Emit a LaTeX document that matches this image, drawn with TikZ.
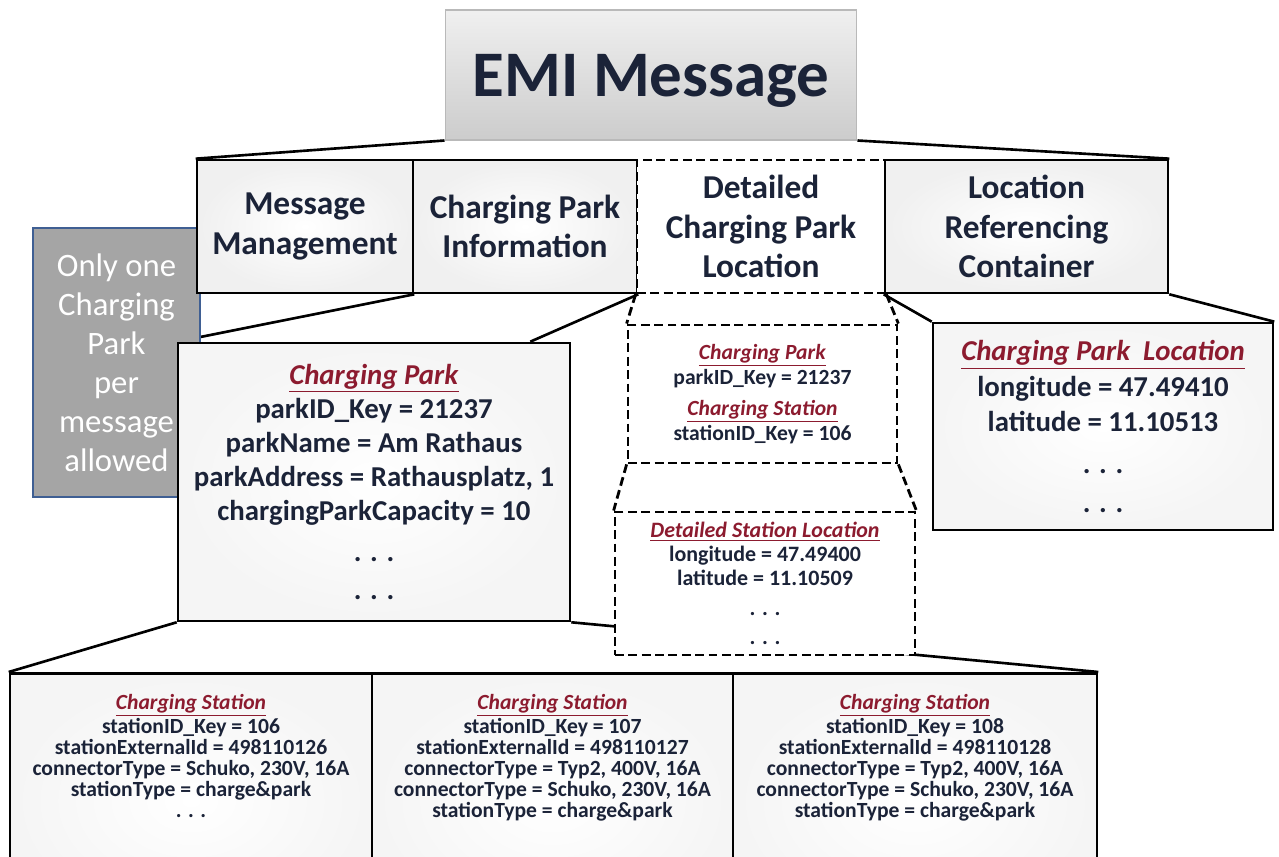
\documentclass[tikz,border=0pt]{standalone}
\usepackage{fontspec}
\setmainfont{Carlito}
\usetikzlibrary{backgrounds}

\definecolor{inknavy}{HTML}{1B2338}
\definecolor{headred}{HTML}{8C1B2F}
\definecolor{notegray}{HTML}{A5A5A5}
\definecolor{noteblue}{HTML}{3F5F93}

\newcommand{\hd}[1]{\textcolor{headred}{\underline{\textit{#1}}}}
\newcommand{\tabfont}{\fontsize{19}{22.5}\selectfont\bfseries}

\tikzset{
  box/.style={draw=black, line width=1.5pt, align=center, text=inknavy, inner sep=0pt},
  emibox/.style={top color=gray!12, bottom color=gray!40, draw=gray!55, line width=0.6pt,
    minimum width=8.24cm, minimum height=2.6cm, text=inknavy, text depth=0pt,
    font=\fontsize{37}{40}\selectfont\bfseries},
  notebox/.style={fill=notegray, draw=noteblue, line width=1.5pt, align=center, text=white,
    minimum width=3.34cm, minimum height=5.38cm, font=\fontsize{18.6}{22.2}\selectfont},
  tab/.style={box, shade, inner color=white, outer color=gray!12, minimum height=2.66cm, font=\tabfont},
  card/.style={box, shade, inner color=white, outer color=gray!8},
  dashbox/.style={box, fill=white, line width=1.6pt, dash pattern=on 5pt off 2.6pt},
  station/.style={card, anchor=north, inner ysep=0.42cm, text depth=1.8cm,
    font=\fontsize{12.3}{11.9}\selectfont\bfseries},
  link/.style={line width=1.5pt},
  dashlink/.style={line width=1.6pt, dash pattern=on 5pt off 2.6pt}
}

\begin{document}
\begin{tikzpicture}[x=0.02cm, y=-0.02cm]

  \useasboundingbox (0,0) rectangle (1279,857);
  \clip (0,0) rectangle (1279,857);

  % Root
  \node[emibox] (emi) at (651,75) {EMI Message};

  % Note behind the containers
  \node[notebox] (note) at (116.5,362.5) {Only one\\Charging\\Park\\per\\message\\allowed};

  % Containers
  \node[tab, minimum width=4.32cm] (mm) at (305,226.5) {Message\\Management};
  \node[tab, minimum width=4.48cm] (cpi) at (525,226.5) {Charging Park\\Information};
  \node[dashbox, minimum width=4.96cm, minimum height=2.66cm, font=\tabfont] (dcpl) at (761,226.5) {Detailed\\Charging Park\\Location};
  \node[tab, minimum width=5.66cm] (lrc) at (1026.5,226.5) {Location\\Referencing\\Container};

  %% Charging park
  \node[card, minimum width=7.84cm, minimum height=5.56cm, font=\fontsize{16.4}{19.4}\selectfont\bfseries] (cp) at (374,482)
    {\hd{Charging Park}\\ parkID\_Key = 21237\\ parkName = Am Rathaus\\ parkAddress = Rathausplatz, 1\\ chargingParkCapacity = 10\\[4pt] . . .\\[2pt] . . .};

  %% Detailed location
  \node[dashbox, minimum width=5.38cm, minimum height=2.76cm, font=\fontsize{12.3}{14.5}\selectfont\bfseries] (dcp) at (762.5,394)
    {\hd{Charging Park}\\ parkID\_Key = 21237\\[3pt] \hd{Charging Station}\\ stationID\_Key = 106};
  \node[dashbox, minimum width=6cm, minimum height=2.86cm, font=\fontsize{12.5}{13.8}\selectfont\bfseries] (dsl) at (765,583.5)
    {\hd{Detailed Station Location}\\ longitude = 47.49400\\ latitude = 11.10509\\[3pt] . . .\\[3pt] . . .};

  %% Location referencing
  \node[card, minimum width=6.8cm, minimum height=4.14cm, font=\fontsize{16.4}{20}\selectfont\bfseries] (cpl) at (1103,426.5)
    {\hd{Charging Park\ \ Location}\\ longitude = 47.49410\\ latitude = 11.10513\\[4pt] . . .\\[2pt] . . .};

  %% Charging stations
  \node[station, minimum width=7.24cm] (st1) at (191,672)
    {\hd{Charging Station}\\ stationID\_Key = 106\\ stationExternalId = 498110126\\ connectorType = Schuko, 230V, 16A\\ stationType = charge\&park\\ . . .};
  \node[station, minimum width=7.22cm] (st2) at (552.5,672)
    {\hd{Charging Station}\\ stationID\_Key = 107\\ stationExternalId = 498110127\\ connectorType = Typ2, 400V, 16A\\ connectorType = Schuko, 230V, 16A\\ stationType = charge\&park};
  \node[station, minimum width=7.28cm] (st3) at (915,672)
    {\hd{Charging Station}\\ stationID\_Key = 108\\ stationExternalId = 498110128\\ connectorType = Typ2, 400V, 16A\\ connectorType = Schuko, 230V, 16A\\ stationType = charge\&park};

  % Connectors
  \begin{scope}[on background layer]
    \draw[link] (emi.south west) -- (mm.north west);
    \draw[link] (emi.south east) -- (lrc.north east);
    \draw[link] (mm.south east) -- (cp.north west);
    \draw[link] (cpi.south east) -- ([xshift=-0.82cm]cp.north east);
    \draw[dashlink] (dcpl.south west) -- (dcp.north west);
    \draw[dashlink] (dcpl.south east) -- (dcp.north east);
    \draw[dashlink] (dcp.south west) -- (dsl.north west);
    \draw[dashlink] (dcp.south east) -- (dsl.north east);
    \draw[link] (lrc.south west) -- (cpl.north west);
    \draw[link] (lrc.south east) -- (cpl.north east);
    \draw[link] (cp.south west) -- (st1.north west);
    \draw[link] (cp.south east) -- (st3.north east);
  \end{scope}

\end{tikzpicture}
\end{document}
